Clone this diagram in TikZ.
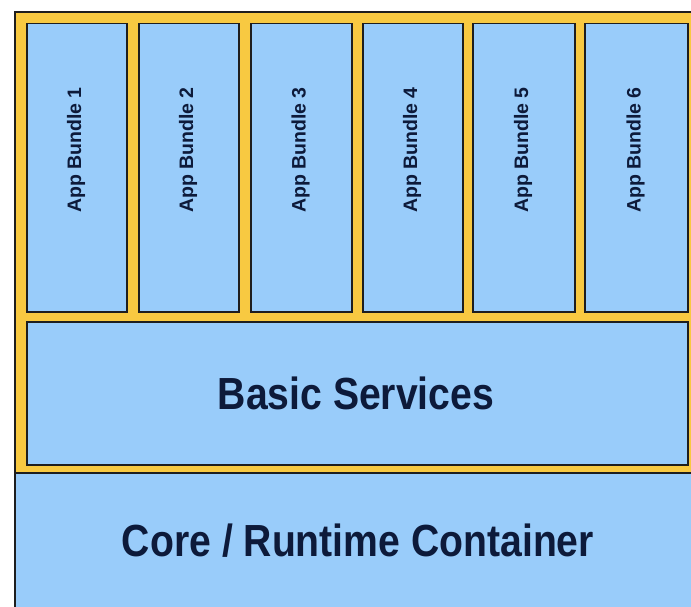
\documentclass[tikz,border=0pt]{standalone}
\usepackage{fontspec}
\setmainfont{Liberation Sans}
\definecolor{boxblue}{HTML}{99CCFA}
\definecolor{frameyellow}{HTML}{F8C941}
\definecolor{edge}{HTML}{1E1E1E}
\definecolor{txt}{HTML}{0D1A3A}
\tikzset{
  panel/.style={draw=edge, line width=1.5pt, fill=boxblue, rectangle, inner sep=0pt},
  bundlelbl/.style={rotate=90, text=txt, font=\fontsize{19.5}{22}\selectfont\bfseries, inner sep=0pt},
  biglbl/.style={text=txt, font=\fontsize{45}{52}\selectfont\bfseries, xscale=0.87, inner sep=0pt}
}
\begin{document}
\begin{tikzpicture}[x=1pt,y=-1pt]
\useasboundingbox (0,0) rectangle (691,607);
\fill[white] (0,0) rectangle (691,607);
\begin{scope}
\clip (0,0) rectangle (691,607);
% outer yellow frame
\node[draw=edge, line width=1.8pt, fill=frameyellow, rectangle, inner sep=0pt,
      minimum width=690pt, minimum height=461pt, anchor=north west] (frame) at (14,11) {};
% core container
\node[panel, minimum width=690pt, minimum height=150pt, anchor=north west] (core) at (14,472) {};
\end{scope}
\node[biglbl] (coretext) at (358,541) {Core / Runtime Container};
% basic services
\node[panel, minimum width=661pt, minimum height=143pt, anchor=north west] (basic) at (26,321) {};
\node[biglbl] (basictext) at (356,393) {Basic Services};
% bundles
\foreach \i/\xl/\xr in {1/26/126, 2/138/238, 3/250/351, 4/362/462, 5/472/574, 6/584/687}{
  \node[panel, minimum width={\xr-\xl}, minimum height=288pt, anchor=north west] (b\i) at (\xl,23) {};
  \node[bundlelbl] (t\i) at ({(\xl+\xr)/2},150) {App Bundle \i};
}
\end{tikzpicture}
\end{document}
